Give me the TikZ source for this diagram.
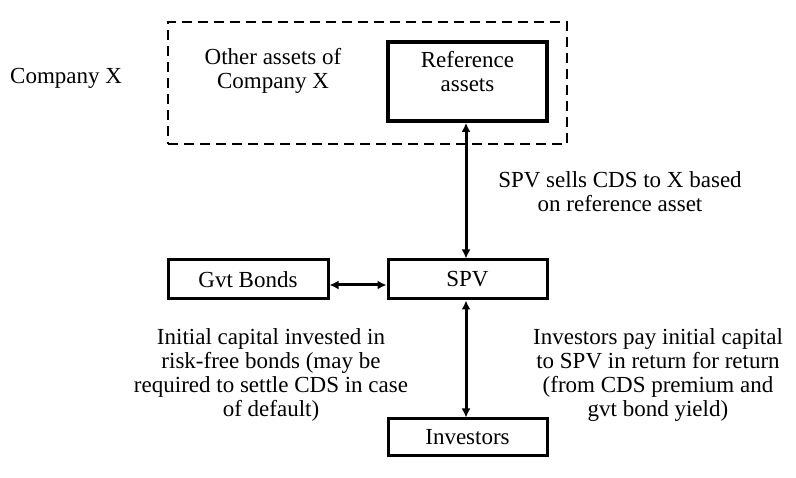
\documentclass[tikz,border=0pt]{standalone}
\usepackage{fontspec}
\setmainfont{Liberation Serif}
\usetikzlibrary{arrows.meta}
\begin{document}
\begin{tikzpicture}[x=1pt,y=-1pt,
  box/.style={draw,line width=3pt,minimum width=159pt,inner sep=0pt},
  txt/.style={font=\fontsize{23}{24}\selectfont,inner sep=0pt,align=center},
  link/.style={line width=3pt,{Latex[length=9pt,width=9pt]}-{Latex[length=9pt,width=9pt]}}]
\useasboundingbox (0,0) rectangle (796,478);
\node[draw,dashed,line width=1.2pt,dash pattern=on 10pt off 6pt,minimum width=399pt,minimum height=122pt,inner sep=0pt] (comp) at (367.5,83) {};
\node[box,line width=3.8pt,minimum height=79pt,txt] (ref) at (467.5,81.5) {};
\node[txt] (reft) at (467.5,72) {Reference\\assets};
\node[txt] (other) at (273,71) {Other assets of\\Company X};
\node[txt,anchor=west] (cx) at (10,78) {Company X};
\node[box,minimum height=39pt,txt] (spv) at (467.5,279.5) {SPV};
\node[box,minimum width=160pt,minimum height=39pt,txt] (gvt) at (248,279.5) {Gvt Bonds};
\node[box,minimum height=37pt,txt] (inv) at (467.5,437.5) {Investors};
\node[txt] (sells) at (620,192) {SPV sells CDS to X based\\on reference asset};
\node[txt] (init) at (271,375) {Initial capital invested in\\risk-free bonds (may be\\required to settle CDS in case\\of default)};
\node[txt] (pay) at (658,375) {Investors pay initial capital\\to SPV in return for return\\(from CDS premium and\\gvt bond yield)};
\draw[link] (ref.south -| 466,0) -- (spv.north -| 466,0);
\draw[link] (spv.south -| 466,0) -- (inv.north -| 466,0);
\draw[link] (gvt.east |- 0,285) -- (spv.west |- 0,285);
\end{tikzpicture}
\end{document}
